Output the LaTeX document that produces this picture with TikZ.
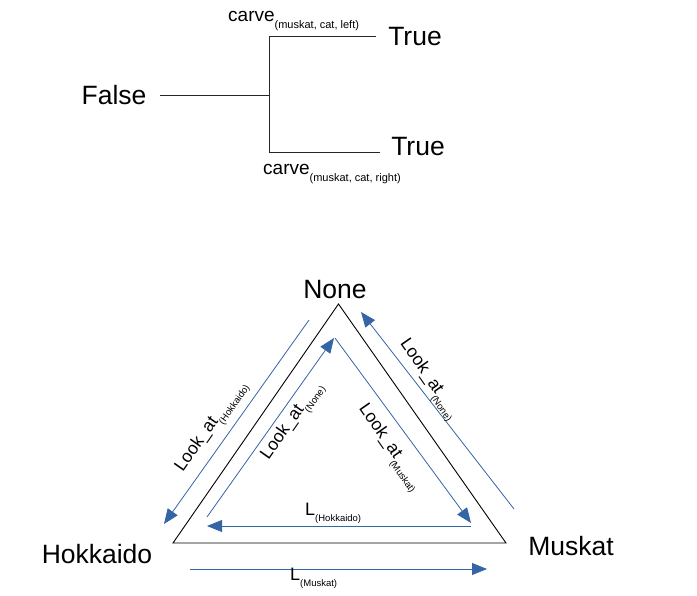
\documentclass[tikz,border=0pt]{standalone}
\usepackage{fontspec}
\setmainfont{Liberation Sans}
\usetikzlibrary{arrows.meta}
\definecolor{arrowblue}{HTML}{3465A4}
\newcommand\fsz[1]{\fontsize{#1}{#1}\selectfont}
\newcommand\lookat[1]{{\fsz{17.5}Look\_at}{\fsz{9.5}\raisebox{-6pt}{(#1)}}}
\newcommand\carvelbl[1]{{\fsz{19}carve}{\fsz{11}\raisebox{-7pt}{(#1)}}}
\newcommand\llbl[1]{{\fsz{18}L}{\fsz{9.5}\raisebox{-6pt}{(#1)}}}
\begin{document}
\begin{tikzpicture}[x=1pt,y=-1pt,
  big/.style={inner sep=0pt, font=\fsz{26.5}},
  lbl/.style={inner sep=0pt},
  treeline/.style={draw=black!85, line width=0.9pt},
  triline/.style={draw=black, line width=0.9pt, line join=miter},
  bluearrow/.style={draw=arrowblue, line width=0.8pt, -{Triangle[length=15pt,width=12pt]}}]
\useasboundingbox (0,0) rectangle (697,596);
% ---- top tree ----
\node[big] (false) at (114,95) {False};
\node[big] (true1) at (415,37) {True};
\node[big] (true2) at (418,147) {True};
\coordinate (fe) at (160,95);
\coordinate (j) at (269,95);
\coordinate (jt) at (269,36);
\coordinate (jb) at (269,152);
\coordinate (t1) at (376,36);
\coordinate (t2) at (380,152);
\draw[treeline] (fe) -- (j);
\draw[treeline] (t1) -- (jt) -- (jb) -- (t2);
\node[lbl, anchor=base west] (c1) at (228,22) {\carvelbl{muskat, cat, left}};
\node[lbl, anchor=base west] (c2) at (263,175) {\carvelbl{muskat, cat, right}};
% ---- triangle ----
\coordinate (A) at (338.5,304);
\coordinate (B) at (173,543);
\coordinate (C) at (506,543);
\draw[triline] (A) -- (B) -- (C) -- cycle;
\node[big] (none) at (335,290) {None};
\node[big] (hok) at (97,554) {Hokkaido};
\node[big] (mus) at (571,546) {Muskat};
% inner arrows
\coordinate (ih1) at (471,526);
\coordinate (ih2) at (207,526);
\coordinate (in1) at (207,517);
\coordinate (in2) at (334,338);
\coordinate (im1) at (335,338);
\coordinate (im2) at (471,523);
\draw[bluearrow] (ih1) -- (ih2);
\draw[bluearrow] (in1) -- (in2);
\draw[bluearrow] (im1) -- (im2);
% outer arrows
\coordinate (oh1) at (309,320);
\coordinate (oh2) at (164,524);
\coordinate (on1) at (514,509);
\coordinate (on2) at (361,312);
\coordinate (om1) at (190,569);
\coordinate (om2) at (487,569);
\draw[bluearrow] (oh1) -- (oh2);
\draw[bluearrow] (on1) -- (on2);
\draw[bluearrow] (om1) -- (om2);
% labels
\node[lbl, anchor=base west] (lh) at (305,515) {\llbl{Hokkaido}};
\node[lbl, anchor=base west] (lm) at (290,580) {\llbl{Muskat}};
\node[lbl, rotate=55] (loh) at (212,427) {\lookat{Hokkaido}};
\node[lbl, rotate=55] (lin) at (293,422) {\lookat{None}};
\node[lbl, rotate=-55] (lon) at (428,380) {\lookat{None}};
\node[lbl, rotate=-55] (lim) at (389,448) {\lookat{Muskat}};
\end{tikzpicture}
\end{document}
